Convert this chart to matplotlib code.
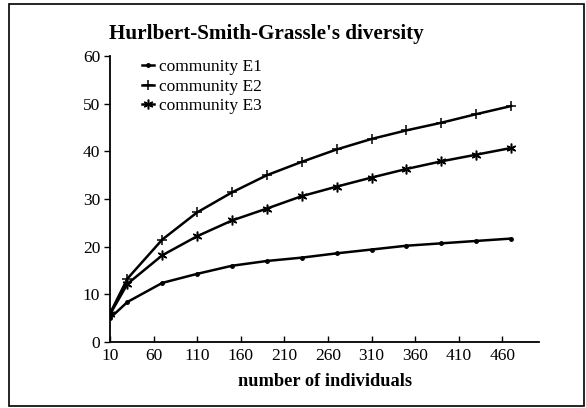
import matplotlib
matplotlib.use("Agg")
import matplotlib.pyplot as plt
from matplotlib.patches import Rectangle

plt.rcParams["font.family"] = ["Liberation Serif", "DejaVu Serif"]

# values
individuals = [10, 30, 70, 110, 150, 190, 230, 270, 310, 350, 390, 430, 470]
e1 = [5.0, 8.4, 12.4, 14.3, 16.0, 17.0, 17.7, 18.6, 19.4, 20.2, 20.7, 21.2, 21.7]
e2 = [6.0, 13.3, 21.5, 27.2, 31.4, 35.0, 37.8, 40.4, 42.6, 44.4, 46.0, 47.8, 49.5]
e3 = [5.8, 12.2, 18.2, 22.2, 25.5, 28.0, 30.6, 32.6, 34.5, 36.3, 37.9, 39.3, 40.7]
xticks = [10, 60, 110, 160, 210, 260, 310, 360, 410, 460]
yticks = [0, 10, 20, 30, 40, 50, 60]

W, H = 586, 408
fig = plt.figure(figsize=(W / 100, H / 100), dpi=100)
ax = fig.add_axes([110 / W, 1 - 342 / H, 429 / W, 286 / H])

lw = 1.8
ax.plot(individuals, e1, color="black", lw=lw, marker="o", ms=2.5,
        label="community E1")
ax.plot(individuals, e2, color="black", lw=lw, marker="+", ms=7.5, mew=1.1,
        label="community E2")
ax.plot(individuals, e3, color="black", lw=lw, marker=(6, 2, 0), ms=7, mew=1.1,
        label="community E3")

ax.set_xlim(10, 502)
ax.set_ylim(0, 60)
ax.set_xticks(xticks)
ax.set_yticks(yticks)
for s in ["top", "right"]:
    ax.spines[s].set_visible(False)
for s in ["left", "bottom"]:
    ax.spines[s].set_linewidth(1.3)
ax.tick_params(axis="x", direction="in", length=4, width=1, labelsize=12.5, pad=4)
ax.tick_params(axis="y", direction="out", length=4, width=1, labelsize=12.5, pad=3)

fig.text(325 / W, 1 - 382 / H, "number of individuals", ha="center", va="center",
         fontsize=13.2, fontweight="bold")

leg = ax.legend(loc="upper left", bbox_to_anchor=(142 / W, 1 - 59 / H),
                bbox_transform=fig.transFigure, frameon=False,
                fontsize=12.5, handlelength=0.7, handletextpad=0.3,
                labelspacing=0.2, borderaxespad=0, borderpad=0)

fig.text(266.5 / W, 1 - 34 / H, "Hurlbert-Smith-Grassle's diversity",
         ha="center", va="center", fontsize=15.2, fontweight="bold")

fig.patches.append(Rectangle((9 / W, 2 / H), 575 / W, 402 / H,
                             transform=fig.transFigure, fill=False,
                             edgecolor="black", lw=1.2))

fig.savefig("out.png", dpi=100)
